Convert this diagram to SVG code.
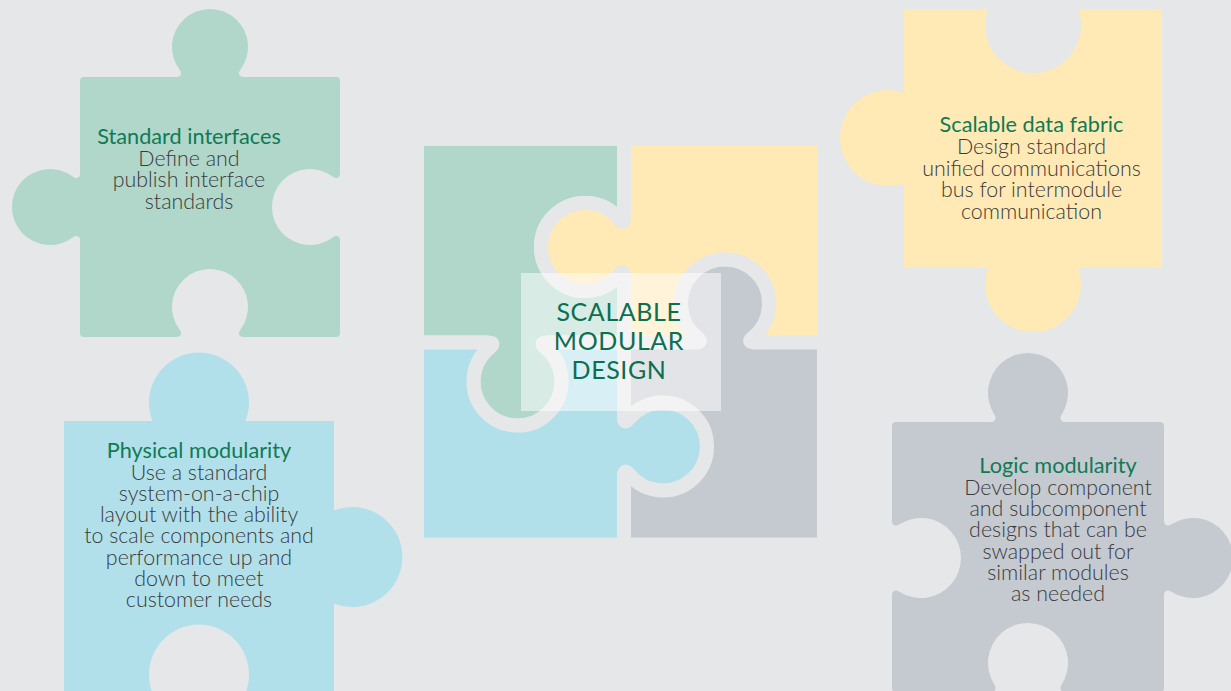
<svg xmlns="http://www.w3.org/2000/svg" width="1231" height="691" viewBox="0 0 1231 691">
<style>
.bg{fill:#e6e7e9}
.g{fill:#b1d6ca}.y{fill:#ffe9b4}.b{fill:#b1e0eb}.k{fill:#c5c9d0}
.c{stroke:#e6e7e9;stroke-width:14;stroke-linejoin:miter}
.t{font-family:Lato,"Noto Sans","DejaVu Sans",sans-serif;font-size:21.7px;fill:#107a55;text-anchor:middle}
.d{font-family:Lato,"Noto Sans","DejaVu Sans",sans-serif;font-size:21.4px;font-weight:300;fill:#3a3a3a;text-anchor:middle}
.m{font-family:Lato,"Noto Sans","DejaVu Sans",sans-serif;font-size:25px;fill:#0b6f50;text-anchor:middle;letter-spacing:0.6px}
</style>
<rect class="bg" x="0" y="0" width="1231" height="691"/>

<g id="standard-interfaces">
<path class="g" d="M84,77 L177,77 C181,77 182.2,73.2 179.8,70 A38 38 0 1 1 240.2,70 C237.8,73.2 239,77 243,77 L336,77 Q340,77 340,81 L340,174 C340,178 336.2,179.2 333,176.8 A38 38 0 1 0 333,237.2 C336.2,234.8 340,236 340,240 L340,333 Q340,337 336,337 L243,337 C239,337 237.8,333.2 240.2,330 A38 38 0 1 0 179.8,330 C182.2,333.2 181,337 177,337 L84,337 Q80,337 80,333 L80,240 C80,236 76.2,234.8 73,237.2 A38 38 0 1 1 73,176.8 C76.2,179.2 80,178 80,174 L80,81 Q80,77 84,77 Z"/>
<text class="t" x="189" y="144">Standard interfaces</text>
<text class="d"><tspan x="189" y="165.5">Define and</tspan><tspan x="189" y="187">publish interface</tspan><tspan x="189" y="208.5">standards</tspan></text>
</g>

<g id="scalable-data-fabric">
<path class="y" d="M904,9 L987.75,9 A48 48 0 1 0 1078.25,9 L1162,9 L1162,268 L1078.25,268 A48 48 0 1 1 987.75,268 L904,268 L904,183.25 A48 48 0 1 1 904,92.75 Z"/>
<text class="t" x="1031.5" y="132.3">Scalable data fabric</text>
<text class="d"><tspan x="1031.5" y="154">Design standard</tspan><tspan x="1031.5" y="175.5">unified communications</tspan><tspan x="1031.5" y="197">bus for intermodule</tspan><tspan x="1031.5" y="218.5">communication</tspan></text>
</g>

<g id="physical-modularity">
<path class="b" d="M64,421 L152.5,421 A50 50 0 1 1 245.5,421 L334,421 L334,510.5 A50 50 0 1 1 334,603.5 L334,693 L245.5,693 A50 50 0 1 0 152.5,693 L64,693 Z"/>
<text class="t" x="199" y="458.3">Physical modularity</text>
<text class="d"><tspan x="199" y="479.5">Use a standard</tspan><tspan x="199" y="500.8">system-on-a-chip</tspan><tspan x="199" y="522">layout with the ability</tspan><tspan x="199" y="543.3">to scale components and</tspan><tspan x="199" y="564.6">performance up and</tspan><tspan x="199" y="586">down to meet</tspan><tspan x="199" y="607">customer needs</tspan></text>
</g>

<g id="logic-modularity">
<path class="k" d="M896,422 L991,422 C995,422 996.8,418.3 994.6,415 A40 40 0 1 1 1061.4,415 C1059.2,418.3 1061,422 1065,422 L1160,422 Q1164,422 1164,426 L1164,521 C1164,525 1167.7,526.8 1171,524.6 A40 40 0 1 1 1171,591.4 C1167.7,589.2 1164,591 1164,595 L1164,688 Q1164,692 1160,692 L1065,692 C1061,692 1059.2,688.3 1061.4,685 A40 40 0 1 0 994.6,685 C996.8,688.3 995,692 991,692 L896,692 Q892,692 892,688 L892,595 C892,591 895.7,589.2 899,591.4 A40 40 0 1 0 899,524.6 C895.7,526.8 892,525 892,521 L892,426 Q892,422 896,422 Z"/>
<text class="t" x="1058" y="473.3">Logic modularity</text>
<text class="d"><tspan x="1058" y="494.6">Develop component</tspan><tspan x="1058" y="516">and subcomponent</tspan><tspan x="1058" y="537.3">designs that can be</tspan><tspan x="1058" y="558.6">swapped out for</tspan><tspan x="1058" y="580">similar modules</tspan><tspan x="1058" y="601">as needed</tspan></text>
</g>

<g id="scalable-modular-design">
<path class="g c" d="M417,139 L624,139 L624,217 C624,223 622.15,222.95 619,219.1 A44 44 0 1 0 619,274.9 C622.15,271.05 624,271 624,277 L624,342.5 L547.5,342.5 C541.5,342.5 541.55,344.35 545.4,347.5 A44 44 0 1 1 489.6,347.5 C493.45,344.35 493.5,342.5 487.5,342.5 L417,342.5 Z"/>
<path class="y c" d="M624,139 L824,139 L824,342.5 L755,342.5 C749,342.5 748.95,340.65 752.9,337.5 A44 44 0 1 0 697.1,337.5 C700.95,340.65 701,342.5 695,342.5 L624,342.5 L624,277 C624,271 622.15,271.05 619,274.9 A44 44 0 1 1 619,219.1 C622.15,222.95 624,223 624,217 Z"/>
<path class="b c" d="M417,342.5 L487.5,342.5 C493.5,342.5 493.45,344.35 489.6,347.5 A44 44 0 1 0 545.4,347.5 C541.55,344.35 541.5,342.5 547.5,342.5 L624,342.5 L624,416.5 C624,422.5 625.85,422.45 629,418.6 A44 44 0 1 1 629,474.4 C625.85,470.55 624,470.5 624,476.5 L624,544.5 L417,544.5 Z"/>
<path class="k c" d="M624,342.5 L695,342.5 C701,342.5 700.95,340.65 697.1,337.5 A44 44 0 1 1 752.9,337.5 C748.95,340.65 749,342.5 755,342.5 L824,342.5 L824,544.5 L624,544.5 L624,476.5 C624,470.5 625.85,470.55 629,474.4 A44 44 0 1 0 629,418.6 C625.85,422.45 624,422.5 624,416.5 Z"/>
<rect x="521" y="273" width="200" height="138" fill="#ffffff" fill-opacity="0.5"/>
<text class="m"><tspan x="619" y="321">SCALABLE</tspan><tspan x="619" y="350">MODULAR</tspan><tspan x="619" y="379">DESIGN</tspan></text>
</g>
</svg>
